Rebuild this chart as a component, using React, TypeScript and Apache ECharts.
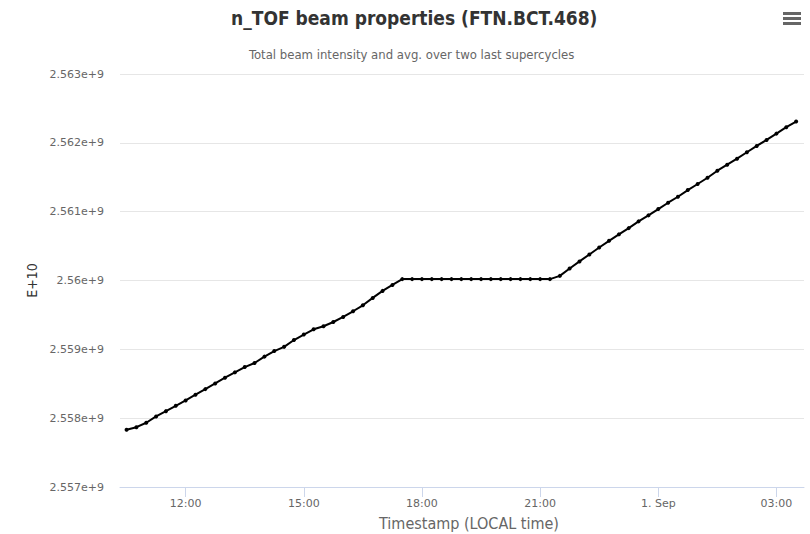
import React, { useEffect, useRef } from "react";
import * as echarts from "echarts";

const titleText = "n_TOF beam properties (FTN.BCT.468)";
const subtitleText = "Total beam intensity and avg. over two last supercycles";
const yAxisTitle = "E+10";
const xAxisTitle = "Timestamp (LOCAL time)";

const timestamps: string[] = [
  "2018-08-31T10:30Z", "2018-08-31T10:45Z", "2018-08-31T11:00Z", "2018-08-31T11:15Z",
  "2018-08-31T11:30Z", "2018-08-31T11:45Z", "2018-08-31T12:00Z", "2018-08-31T12:15Z",
  "2018-08-31T12:30Z", "2018-08-31T12:45Z", "2018-08-31T13:00Z", "2018-08-31T13:15Z",
  "2018-08-31T13:30Z", "2018-08-31T13:45Z", "2018-08-31T14:00Z", "2018-08-31T14:15Z",
  "2018-08-31T14:30Z", "2018-08-31T14:45Z", "2018-08-31T15:00Z", "2018-08-31T15:15Z",
  "2018-08-31T15:30Z", "2018-08-31T15:45Z", "2018-08-31T16:00Z", "2018-08-31T16:15Z",
  "2018-08-31T16:30Z", "2018-08-31T16:45Z", "2018-08-31T17:00Z", "2018-08-31T17:15Z",
  "2018-08-31T17:30Z", "2018-08-31T17:45Z", "2018-08-31T18:00Z", "2018-08-31T18:15Z",
  "2018-08-31T18:30Z", "2018-08-31T18:45Z", "2018-08-31T19:00Z", "2018-08-31T19:15Z",
  "2018-08-31T19:30Z", "2018-08-31T19:45Z", "2018-08-31T20:00Z", "2018-08-31T20:15Z",
  "2018-08-31T20:30Z", "2018-08-31T20:45Z", "2018-08-31T21:00Z", "2018-08-31T21:15Z",
  "2018-08-31T21:30Z", "2018-08-31T21:45Z", "2018-08-31T22:00Z", "2018-08-31T22:15Z",
  "2018-08-31T22:30Z", "2018-08-31T22:45Z", "2018-08-31T23:00Z", "2018-08-31T23:15Z",
  "2018-08-31T23:30Z", "2018-08-31T23:45Z", "2018-09-01T00:00Z", "2018-09-01T00:15Z",
  "2018-09-01T00:30Z", "2018-09-01T00:45Z", "2018-09-01T01:00Z", "2018-09-01T01:15Z",
  "2018-09-01T01:30Z", "2018-09-01T01:45Z", "2018-09-01T02:00Z", "2018-09-01T02:15Z",
  "2018-09-01T02:30Z", "2018-09-01T02:45Z", "2018-09-01T03:00Z", "2018-09-01T03:15Z",
  "2018-09-01T03:30Z",
];

const intensity: number[] = [
  2557831000, 2557869000, 2557933000, 2558025000, 2558102000, 2558180000,
  2558258000, 2558341000, 2558422000, 2558505000, 2558588000, 2558665000,
  2558742000, 2558801000, 2558894000, 2558975000, 2559036000, 2559135000,
  2559214000, 2559291000, 2559335000, 2559397000, 2559470000, 2559553000,
  2559640000, 2559747000, 2559849000, 2559936000, 2560020000, 2560020000,
  2560020000, 2560020000, 2560020000, 2560020000, 2560020000, 2560020000,
  2560020000, 2560020000, 2560020000, 2560020000, 2560020000, 2560020000,
  2560020000, 2560020000, 2560067000, 2560175000, 2560277000, 2560378000,
  2560480000, 2560576000, 2560670000, 2560761000, 2560859000, 2560946000,
  2561038000, 2561130000, 2561217000, 2561314000, 2561402000, 2561493000,
  2561595000, 2561683000, 2561770000, 2561863000, 2561955000, 2562042000,
  2562134000, 2562227000, 2562309000,
];

const xTickTimes: string[] = [
  "2018-08-31T12:00Z", "2018-08-31T15:00Z", "2018-08-31T18:00Z",
  "2018-08-31T21:00Z", "2018-09-01T00:00Z", "2018-09-01T03:00Z",
];
const xRange: string[] = ["2018-08-31T10:20Z", "2018-09-01T03:42Z"];
const yMin = 2557000000;
const yMax = 2563000000;
const yStep = 1000000;

const monthNames = ["Jan", "Feb", "Mar", "Apr", "May", "Jun", "Jul", "Aug", "Sep", "Oct", "Nov", "Dec"];

function fmtTime(v: number): string {
  const d = new Date(v);
  const h = d.getUTCHours();
  const m = d.getUTCMinutes();
  if (h === 0 && m === 0) return `${d.getUTCDate()}. ${monthNames[d.getUTCMonth()]}`;
  return `${String(h).padStart(2, "0")}:${String(m).padStart(2, "0")}`;
}

function fmtY(v: number): string {
  return `${parseFloat((v / 1e9).toFixed(3))}e+9`;
}

export default function App() {
  const ref = useRef<HTMLDivElement>(null);
  useEffect(() => {
    document.body.style.margin = "0";
    if (!ref.current) return;
    const chart = echarts.init(ref.current, undefined, { renderer: "svg" });
    const font = "'DejaVu Sans', Verdana, sans-serif";
    const cfont = "'DejaVu Sans Condensed', 'Liberation Sans Narrow', 'DejaVu Sans', sans-serif";
    const data = timestamps.map((t, i) => [Date.parse(t), intensity[i]]);
    const tickVals = xTickTimes.map((t) => Date.parse(t));
    chart.setOption({
      animation: false,
      backgroundColor: "#ffffff",
      textStyle: { fontFamily: font },
      title: [
        {
          text: titleText,
          left: 226,
          top: 3,
          textStyle: { fontFamily: cfont, fontSize: 19, fontWeight: "bold", color: "#333333" },
        },
        {
          text: subtitleText,
          left: 244,
          top: 43,
          textStyle: { fontFamily: cfont, fontSize: 13, fontWeight: "normal", color: "#666666" },
        },
      ],
      grid: { left: 120, right: 6, top: 74, bottom: 47, containLabel: false },
      xAxis: {
        type: "value",
        min: Date.parse(xRange[0]),
        max: Date.parse(xRange[1]),
        axisLine: { show: true, lineStyle: { color: "#ccd6eb", width: 1 } },
        axisTick: { show: true, length: 10, lineStyle: { color: "#ccd6eb" }, customValues: tickVals },
        axisLabel: {
          customValues: tickVals,
          formatter: (v: number) => fmtTime(v),
          color: "#666666",
          fontSize: 11,
          fontFamily: font,
          margin: 11,
        },
        splitLine: { show: false },
      },
      yAxis: {
        type: "value",
        min: yMin,
        max: yMax,
        interval: yStep,
        name: yAxisTitle,
        nameLocation: "middle",
        nameRotate: 90,
        nameGap: 78,
        nameTextStyle: { fontFamily: cfont, fontSize: 14, color: "#333333" },
        axisLine: { show: false },
        axisTick: { show: false },
        axisLabel: {
          formatter: (v: number) => fmtY(v),
          color: "#666666",
          fontSize: 11,
          fontFamily: font,
          margin: 16,
        },
        splitLine: { show: true, lineStyle: { color: "#e6e6e6", width: 1 } },
      },
      series: [
        {
          type: "line",
          data,
          symbol: "circle",
          symbolSize: 4,
          showSymbol: true,
          lineStyle: { color: "#000000", width: 2 },
          itemStyle: { color: "#000000" },
        },
      ],
      graphic: [
        {
          type: "text",
          x: 469,
          y: 523,
          style: {
            text: xAxisTitle,
            fontFamily: cfont,
            fontSize: 16,
            fill: "#666666",
            align: "center",
            verticalAlign: "middle",
          },
        },
        { type: "rect", left: 783, top: 12, shape: { width: 18, height: 3 }, style: { fill: "#666666" } },
        { type: "rect", left: 783, top: 17, shape: { width: 18, height: 3 }, style: { fill: "#666666" } },
        { type: "rect", left: 783, top: 22, shape: { width: 18, height: 3 }, style: { fill: "#666666" } },
      ],
    });
    return () => chart.dispose();
  }, []);
  return <div ref={ref} style={{ width: 810, height: 534 }} />;
}
